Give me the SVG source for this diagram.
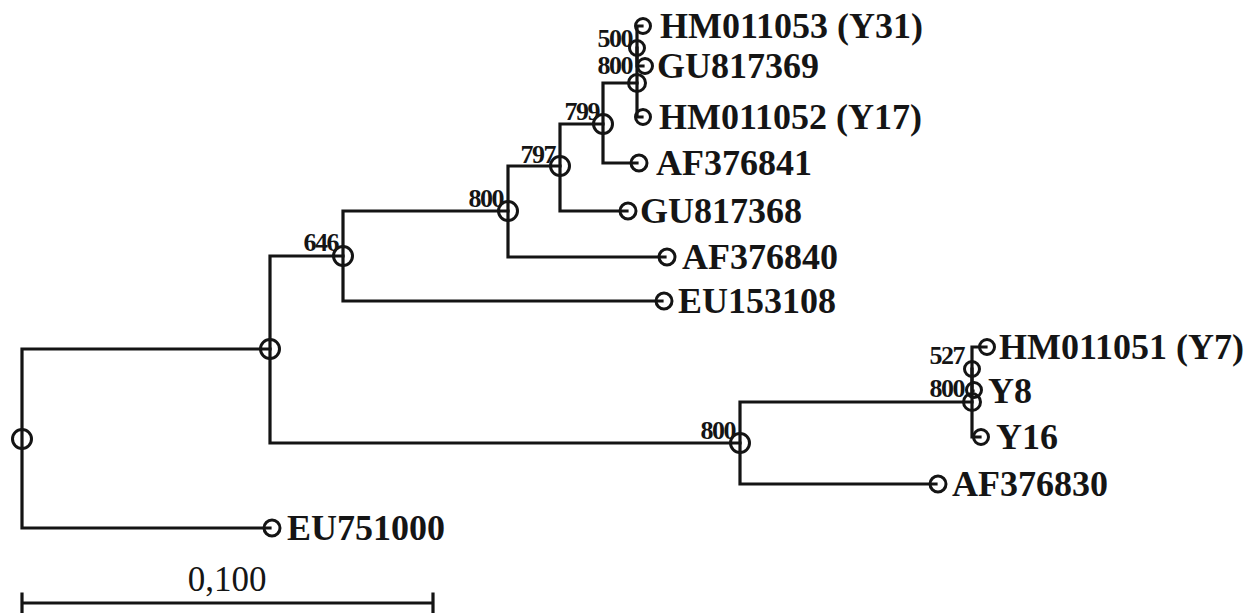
<svg xmlns="http://www.w3.org/2000/svg" width="1260" height="613" viewBox="0 0 1260 613">
<style>
.br{fill:none;stroke:#141414;stroke-width:3.2;stroke-linecap:square;stroke-linejoin:miter}
.nd{fill:none;stroke:#141414;stroke-width:3}
.leaf{font-family:"Liberation Serif","Times New Roman",serif;font-weight:bold;font-size:36px;fill:#151515}
.bs{font-family:"Liberation Serif","Times New Roman",serif;font-weight:bold;font-size:26px;fill:#151515;text-anchor:end;letter-spacing:-1.5px}
.sc{font-family:"Liberation Serif","Times New Roman",serif;font-size:35px;fill:#151515;text-anchor:middle}
</style>
<rect width="1260" height="613" fill="#ffffff"/>
<g id="connectors">
<path class="br" d="M270,349 H22 V528 H270"/>
<path class="br" d="M343,256 H270 V443 H740"/>
<path class="br" d="M508,211 H343 V301 H662"/>
<path class="br" d="M560,166 H508 V257 H665"/>
<path class="br" d="M603,124 H560 V211 H627"/>
<path class="br" d="M637,83 H603 V163 H637"/>
<path class="br" d="M637,48 V117 H642"/>
<path class="br" d="M642,26 H637 V66 H643"/>
<path class="br" d="M972,402 H740 V484 H936"/>
<path class="br" d="M972,369 V437 H980"/>
<path class="br" d="M986,347 H972 V391 H973"/>
</g>
<g id="root"><circle class="nd" cx="22" cy="439" r="9.5"/></g>
<g id="n1"><circle class="nd" cx="270" cy="349" r="9.5"/></g>
<g id="n646"><circle class="nd" cx="343" cy="256" r="9.5"/><text class="bs" x="338" y="251">646</text></g>
<g id="n800a"><circle class="nd" cx="508" cy="211" r="9.5"/><text class="bs" x="503" y="207">800</text></g>
<g id="n797"><circle class="nd" cx="560" cy="166" r="9.5"/><text class="bs" x="555" y="163">797</text></g>
<g id="n799"><circle class="nd" cx="603" cy="124" r="9.5"/><text class="bs" x="599" y="120">799</text></g>
<g id="n800b"><circle class="nd" cx="637" cy="83" r="8.5"/><text class="bs" x="632" y="74">800</text></g>
<g id="n500"><circle class="nd" cx="637" cy="48" r="7.5"/><text class="bs" x="632" y="47">500</text></g>
<g id="n800c"><circle class="nd" cx="740" cy="443" r="9.5"/><text class="bs" x="735" y="439">800</text></g>
<g id="n800d"><circle class="nd" cx="972" cy="402" r="8.5"/><text class="bs" x="964" y="397">800</text></g>
<g id="n527"><circle class="nd" cx="972" cy="369" r="7.5"/><text class="bs" x="964" y="364">527</text></g>
<g id="leaf-HM011053"><circle class="nd" cx="643" cy="26" r="7.5"/><text class="leaf" x="660" y="38">HM011053 (Y31)</text></g>
<g id="leaf-GU817369"><circle class="nd" cx="645" cy="66" r="7.5"/><text class="leaf" x="657" y="78">GU817369</text></g>
<g id="leaf-HM011052"><circle class="nd" cx="643" cy="117" r="7.5"/><text class="leaf" x="659" y="129">HM011052 (Y17)</text></g>
<g id="leaf-AF376841"><circle class="nd" cx="639" cy="163" r="8"/><text class="leaf" x="656" y="175">AF376841</text></g>
<g id="leaf-GU817368"><circle class="nd" cx="628" cy="211" r="8"/><text class="leaf" x="640" y="223">GU817368</text></g>
<g id="leaf-AF376840"><circle class="nd" cx="667" cy="257" r="8"/><text class="leaf" x="682" y="269">AF376840</text></g>
<g id="leaf-EU153108"><circle class="nd" cx="664" cy="301" r="8"/><text class="leaf" x="678" y="313">EU153108</text></g>
<g id="leaf-HM011051"><circle class="nd" cx="987" cy="347" r="7.5"/><text class="leaf" x="999" y="359">HM011051 (Y7)</text></g>
<g id="leaf-Y8"><circle class="nd" cx="974" cy="390" r="7.5"/><text class="leaf" x="988" y="403">Y8</text></g>
<g id="leaf-Y16"><circle class="nd" cx="981" cy="437" r="7.5"/><text class="leaf" x="996" y="449">Y16</text></g>
<g id="leaf-AF376830"><circle class="nd" cx="938" cy="484" r="8"/><text class="leaf" x="952" y="496">AF376830</text></g>
<g id="leaf-EU751000"><circle class="nd" cx="272" cy="528" r="8"/><text class="leaf" x="287" y="540">EU751000</text></g>
<g id="scale">
<path class="br" d="M22,603 H433 M22,594 V613 M433,594 V613"/>
<text class="sc" x="227" y="591">0,100</text>
</g>
</svg>
